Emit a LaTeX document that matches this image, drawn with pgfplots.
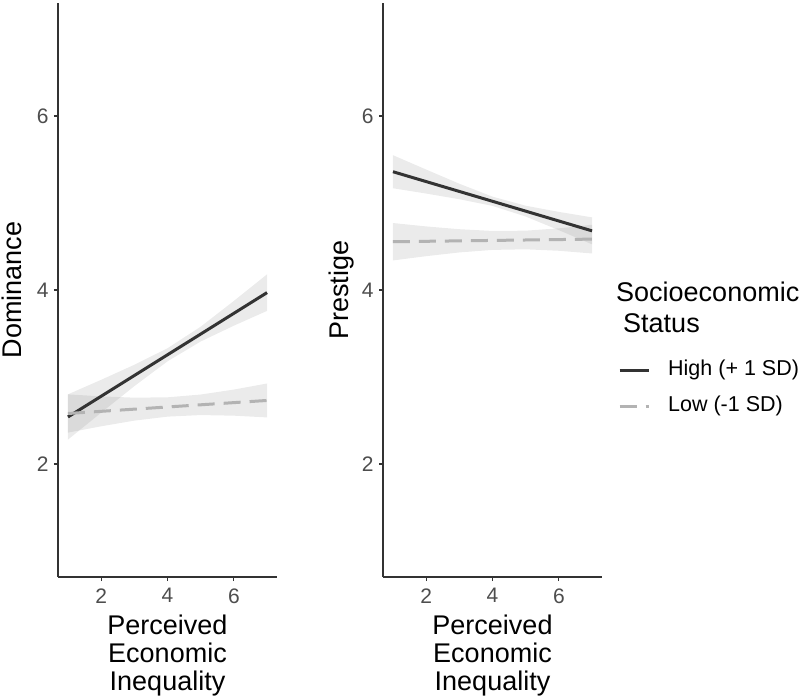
\documentclass[border=0pt]{standalone}
\usepackage{fontspec}
\setmainfont{Liberation Sans}
\usepackage{pgfplots}
\pgfplotsset{compat=1.18}

\definecolor{hiline}{HTML}{333333}
\definecolor{loline}{HTML}{B3B3B3}
\definecolor{axisdark}{HTML}{333333}
\definecolor{ticktext}{HTML}{4D4D4D}
\definecolor{bandgray}{HTML}{999999}

\pgfplotsset{
  panel/.style={
    scale only axis, width=219pt, height=574pt,
    xmin=0.7, xmax=7.3, ymin=0.7, ymax=7.3,
    axis x line=bottom, axis y line=left,
    axis line style={axisdark, line width=1.6pt, -},
    xtick={2,4,6}, ytick={2,4,6},
    tick align=outside, major tick length=4pt,
    tick style={axisdark, line width=1.2pt},
    tick label style={font=\fontsize{21}{25}\selectfont, text=ticktext},
    xticklabel style={yshift=-4pt},
    yticklabel style={xshift=-2pt},
    /pgf/number format/assume math mode=true,
    xlabel={Perceived\\Economic\\Inequality},
    xlabel style={align=center, font=\fontsize{27}{28}\selectfont, yshift=-5pt},
    ylabel style={font=\fontsize{27}{29}\selectfont},
  },
  band/.style={fill=bandgray, fill opacity=0.2, draw=none, forget plot},
  high/.style={hiline, line width=3pt},
  low/.style={loline, line width=3pt, dash pattern=on 17pt off 9pt},
}

\begin{document}
\begin{tikzpicture}
\useasboundingbox (0,0) rectangle (800pt,699pt);

% Dominance panel
\begin{axis}[panel, at={(58pt,122pt)}, anchor=south west, ylabel={Dominance},
  ylabel style={yshift=8pt}]
  % confidence bands: upper edge left to right, lower edge right to left
  \addplot[band] coordinates {
    (1,2.800) (2,2.967) (3,3.140) (4,3.330) (5,3.578) (6,3.874) (7,4.180)
    (7,3.760) (6,3.590) (5,3.408) (4,3.180) (3,2.894) (2,2.589) (1,2.280)};
  \addplot[band] coordinates {
    (1,2.800) (2,2.777) (3,2.762) (4,2.766) (5,2.798) (6,2.855) (7,2.925)
    (7,2.535) (6,2.555) (5,2.562) (4,2.544) (3,2.498) (2,2.433) (1,2.360)};
  \addplot[high] coordinates {(1,2.54) (7,3.97)};
  \addplot[low]  coordinates {(1,2.58) (7,2.73)};
\end{axis}

% Prestige panel
\begin{axis}[panel, at={(383pt,122pt)}, anchor=south west, ylabel={Prestige},
  ylabel style={yshift=1pt},
  legend image code/.code={\draw[#1] (0pt,0pt) -- (29pt,0pt);},
  legend style={at={(1.073,0.378)}, anchor=north west, draw=none, fill=none,
    inner sep=0pt, font=\fontsize{21.5}{26}\selectfont,
    nodes={inner sep=0pt, text height=15pt, text depth=5pt},
    row sep=16.7pt, column sep=0pt},
  legend cell align=left,
  /tikz/every odd column/.append style={column sep=18pt}]
  \addplot[band] coordinates {
    (1,5.550) (2,5.385) (3,5.222) (4,5.073) (5,4.969) (6,4.898) (7,4.835)
    (7,4.525) (6,4.688) (5,4.845) (4,4.967) (3,5.044) (2,5.109) (1,5.170)};
  \addplot[band] coordinates {
    (1,4.770) (2,4.731) (3,4.699) (4,4.679) (5,4.682) (6,4.709) (7,4.750)
    (7,4.420) (6,4.451) (5,4.468) (4,4.461) (3,4.432) (2,4.389) (1,4.340)};
  \addplot[high] coordinates {(1,5.36) (7,4.68)};
  \addlegendentry{High (+ 1 SD)}
  \addplot[low]  coordinates {(1,4.555) (7,4.585)};
  \addlegendentry{Low (-1 SD)}
\end{axis}

% legend title
\node[anchor=base west, inner sep=0pt, font=\fontsize{27}{29}\selectfont] at (616pt,397pt) {Socioeconomic};
\node[anchor=base west, inner sep=0pt, font=\fontsize{27}{29}\selectfont] at (623pt,366pt) {Status};
\end{tikzpicture}
\end{document}
